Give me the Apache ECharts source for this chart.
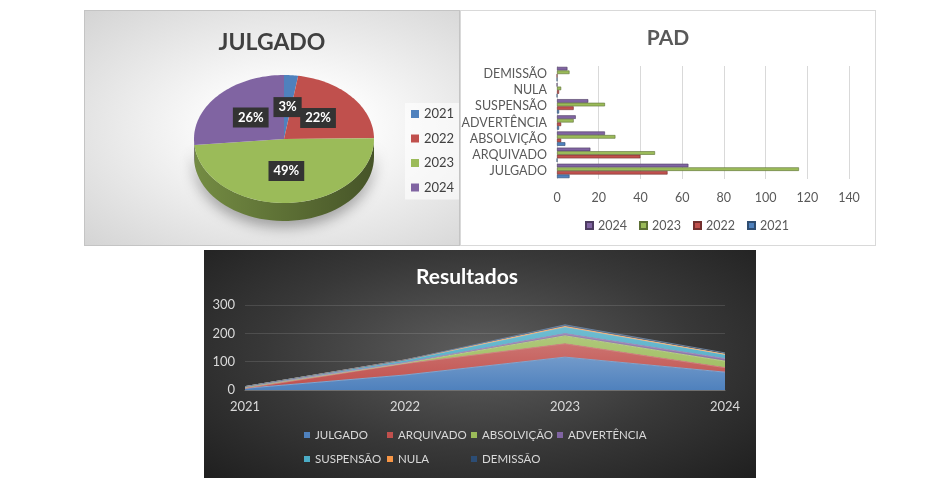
<!DOCTYPE html>
<html>
<head>
<meta charset="utf-8">
<script src="https://cdn.jsdelivr.net/npm/echarts@6/dist/echarts.min.js"></script>
<style>
  body { margin: 0; width: 950px; height: 486px; background: #fff; position: relative; overflow: hidden; }
  .painel { position: absolute; box-sizing: border-box; }
  #julgado { left: 84px; top: 10px; width: 376px; height: 236px; border: 1px solid #c4c4c4;
    background: radial-gradient(ellipse at 55% 50%, #ffffff 20%, #d4d4d4 100%); }
  #pad { left: 460px; top: 10px; width: 416px; height: 236px; border: 1px solid #d9d9d9; background: #fff; }
  #resultados { left: 204px; top: 250px; width: 552px; height: 228px;
    background: radial-gradient(ellipse at 50% 45%, #5e5e5e 0%, #383838 55%, #1f1f1f 100%); }
</style>
</head>
<body>
<div id="julgado" class="painel"></div>
<div id="pad" class="painel"></div>
<div id="resultados" class="painel"></div>
<script>
// dados
const anos = ['2021', '2022', '2023', '2024'];
const coresAnos = ['#4f81bd', '#c0504d', '#9bbb59', '#8064a2'];

// categorias do PAD (de baixo para cima no gráfico de barras)
const categorias = ['JULGADO', 'ARQUIVADO', 'ABSOLVIÇÃO', 'ADVERTÊNCIA', 'SUSPENSÃO', 'NULA', 'DEMISSÃO'];
const pad2021 = [6, 0, 4, 1, 1, 0, 0];
const pad2022 = [53, 40, 2, 2, 8, 1, 0];
const pad2023 = [116, 47, 28, 8, 23, 2, 6];
const pad2024 = [63, 16, 23, 9, 15, 0, 5];
const padPorAno = [pad2021, pad2022, pad2023, pad2024];

// pizza JULGADO = primeira categoria de cada ano
const julgadoPorAno = padPorAno.map(a => a[0]);

const coresResultados = ['#4f81bd', '#c0504d', '#9bbb59', '#8064a2', '#4bacc6', '#f79646', '#2c4d75'];

const fonte = 'Lato, "Open Sans", sans-serif';

// escurece uma cor (lift só clareia)
function escurece(cor, t) {
  return echarts.color.lerp(t, [cor, '#000000']);
}

// ---------- JULGADO (pizza 3D achatada) ----------
const total = julgadoPorAno.reduce((a, b) => a + b, 0);
let acum = 0;
const fatias = julgadoPorAno.map(v => {
  const ini = acum / total;
  acum += v;
  return [ini, acum / total, v];
});

function desenhaFatia(params, api) {
  const ini = api.value(0) * 2 * Math.PI, fim = api.value(1) * 2 * Math.PI;
  const cx = 199, cy = 128, rx = 90, ry = 64, alt = 18;
  const cor = api.visual('color');
  const ponto = (a, dy) => [cx + rx * Math.sin(a), cy - ry * Math.cos(a) + dy];
  const filhos = [];
  // lateral (só a metade da frente aparece)
  const l0 = Math.max(ini, Math.PI / 2), l1 = Math.min(fim, Math.PI * 1.5);
  if (l1 > l0) {
    const lado = [];
    for (let k = 0; k <= 48; k++) lado.push(ponto(l0 + (l1 - l0) * k / 48, 0));
    for (let k = 48; k >= 0; k--) lado.push(ponto(l0 + (l1 - l0) * k / 48, alt));
    filhos.push({
      type: 'polygon', z2: 1, shape: { points: lado },
      style: {
        fill: new echarts.graphic.LinearGradient(0, 0, 1, 0, [
          { offset: 0, color: escurece(cor, 0.25) },
          { offset: 0.5, color: escurece(cor, 0.4) },
          { offset: 1, color: escurece(cor, 0.55) }
        ]),
        shadowBlur: 14, shadowColor: 'rgba(0,0,0,0.35)', shadowOffsetY: 6
      }
    });
  }
  const topo = [[cx, cy]];
  for (let k = 0; k <= 48; k++) topo.push(ponto(ini + (fim - ini) * k / 48, 0));
  filhos.push({ type: 'polygon', z2: 5, shape: { points: topo }, style: { fill: cor } });
  // rótulo
  const meio = (ini + fim) / 2;
  filhos.push({
    type: 'text', z2: 10,
    x: cx + rx * 0.5 * Math.sin(meio), y: cy - ry * 0.5 * Math.cos(meio),
    style: {
      text: Math.round(api.value(2) / total * 100) + '%',
      fill: '#fff', font: 'bold 13px ' + fonte, align: 'center', verticalAlign: 'middle',
      backgroundColor: '#333', padding: [4, 5, 3, 5]
    }
  });
  return { type: 'group', children: filhos };
}

const graficoJulgado = echarts.init(document.getElementById('julgado'));
graficoJulgado.setOption({
  animation: false,
  textStyle: { fontFamily: fonte },
  title: { text: 'JULGADO', left: 'center', top: 15, textStyle: { fontSize: 23, fontWeight: 'bold', color: '#404040' } },
  legend: {
    orient: 'vertical', left: 320, top: 92, padding: [3, 6, 4, 6], backgroundColor: 'rgba(255,255,255,0.6)',
    icon: 'rect', itemWidth: 8, itemHeight: 8, itemGap: 8.5,
    textStyle: { color: '#404040', fontSize: 13, lineHeight: 16 }
  },
  series: anos.map((ano, i) => ({
    name: ano, type: 'custom', coordinateSystem: 'none',
    color: coresAnos[i], renderItem: desenhaFatia, data: [fatias[i]]
  }))
});

// ---------- PAD (barras horizontais) ----------
// séries em ordem inversa para que 2024 fique em cima em cada categoria
const ordemPad = [3, 2, 1, 0];
const graficoPad = echarts.init(document.getElementById('pad'));
graficoPad.setOption({
  animation: false,
  textStyle: { fontFamily: fonte },
  title: { text: 'PAD', left: 'center', top: 12, textStyle: { fontSize: 21, fontWeight: 'bold', color: '#595959' } },
  legend: {
    data: ['2024', '2023', '2022', '2021'], bottom: 8, left: 119, icon: 'rect', itemWidth: 7, itemHeight: 7, itemGap: 12,
    textStyle: { color: '#595959', fontSize: 12.5 }
  },
  grid: { left: 96, right: 26, top: 55, bottom: 66, outerBoundsMode: 'none' },
  xAxis: {
    type: 'value', min: 0, max: 140, interval: 20,
    axisLine: { show: false }, axisTick: { show: false },
    axisLabel: { color: '#595959', fontSize: 12.5, margin: 12 },
    splitLine: { lineStyle: { color: '#d9d9d9' } }
  },
  yAxis: {
    type: 'category', data: categorias,
    axisLine: { show: false }, axisTick: { show: false },
    axisLabel: { color: '#595959', fontSize: 12.5, margin: 10, interval: 0 }
  },
  series: ordemPad.map(i => ({
    name: anos[i], type: 'bar', data: padPorAno[i], barWidth: 3.6, barGap: '0%',
    itemStyle: { color: coresAnos[i], borderColor: escurece(coresAnos[i], 0.4), borderWidth: 0.6 }
  }))
});

// ---------- Resultados (áreas empilhadas) ----------
// legenda em 4 colunas alinhadas, como no original
const colunasLegenda = [[0, 4], [1, 5], [2, 6], [3]];
const esquerdaColunas = [95, 178, 262, 348];
const graficoRes = echarts.init(document.getElementById('resultados'));
graficoRes.setOption({
  animation: false,
  textStyle: { fontFamily: fonte },
  title: { text: 'Resultados', left: 207, top: 12, textStyle: { fontSize: 21, fontWeight: 'bold', color: '#ffffff' } },
  legend: colunasLegenda.map((col, c) => ({
    data: col.map(j => categorias[j]),
    orient: 'vertical', left: esquerdaColunas[c], top: 172,
    icon: 'rect', itemWidth: 6, itemHeight: 6, itemGap: 8,
    textStyle: { color: '#d9d9d9', fontSize: 11.5, lineHeight: 16 }
  })),
  grid: { left: 41, right: 31, top: 55, bottom: 88, outerBoundsMode: 'none' },
  xAxis: {
    type: 'category', data: anos, boundaryGap: false,
    axisLine: { lineStyle: { color: '#6f6f6f' } }, axisTick: { show: false },
    axisLabel: { color: '#d9d9d9', fontSize: 13, margin: 10 }
  },
  yAxis: {
    type: 'value', min: 0, max: 300, interval: 100,
    axisLabel: { color: '#d9d9d9', fontSize: 13, margin: 10 },
    splitLine: { lineStyle: { color: 'rgba(255,255,255,0.12)' } }
  },
  series: categorias.map((cat, j) => ({
    name: cat, type: 'line', stack: 'total', showSymbol: false,
    data: padPorAno.map(a => a[j]),
    color: coresResultados[j],
    lineStyle: { width: 1, color: echarts.color.lift(coresResultados[j], 0.3) },
    areaStyle: {
      opacity: 1,
      color: new echarts.graphic.LinearGradient(0, 0, 0, 1, [
        { offset: 0, color: echarts.color.lift(coresResultados[j], 0.2) },
        { offset: 1, color: coresResultados[j] }
      ])
    }
  }))
});
</script>
</body>
</html>
